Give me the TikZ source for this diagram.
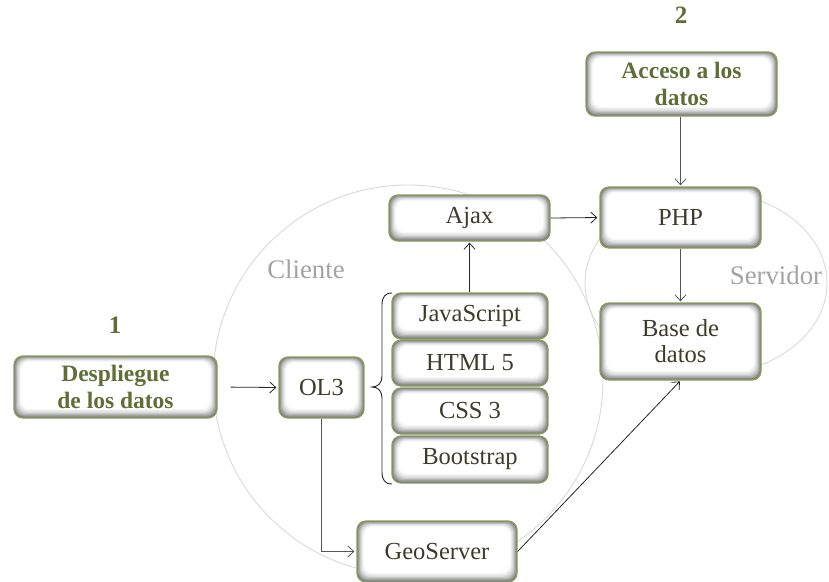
\documentclass[tikz,border=0pt]{standalone}
\usepackage{fontspec}
\setmainfont{Liberation Serif}
\usetikzlibrary{arrows.meta}
\definecolor{bordc}{HTML}{8A9D5B}
\definecolor{headc}{HTML}{5E6F36}
\definecolor{bodyc}{HTML}{3E3B2A}
\definecolor{circc}{HTML}{D9D9D9}
\definecolor{labc}{HTML}{A3A3A3}
\definecolor{arrc}{HTML}{555555}
\tikzset{
  box/.style={draw=bordc, line width=1.3pt, rounded corners=9pt, fill=white,
    align=center, text=bodyc, inner sep=0pt,
    font=\fontsize{24.5}{26}\selectfont,
    path picture={
      \foreach \i/\c in {0/52,1/40,2/30,3/21,4/14,5/8,6/3,7/0} {
        \fill[black!\c!white, rounded corners=9pt]
          ([shift={(\i pt,-0.8*\i pt)}]path picture bounding box.north west)
          rectangle ([shift={(-\i pt,1.3*\i pt)}]path picture bounding box.south east);
      }
    }},
  head/.style={box, text=headc, font=\bfseries\fontsize{23.5}{27}\selectfont},
  num/.style={text=headc, font=\bfseries\fontsize{25}{26}\selectfont, inner sep=0pt},
  glabel/.style={text=labc, font=\fontsize{26.8}{28}\selectfont, inner sep=0pt},
  circ/.style={draw=circc, line width=0.9pt},
  arr/.style={draw=black!85, line width=0.8pt, -{Straight Barb[length=6pt,width=11pt]}},
  garr/.style={arr, draw=arrc},
  brc/.style={draw=black!85, line width=0.9pt},
}
\begin{document}
\begin{tikzpicture}[x=1pt,y=-1pt]
\useasboundingbox (0,0) rectangle (829,581);
% background regions
\draw[circ] (408,380) circle [radius=195pt];
\draw[circ] (706,283) ellipse [x radius=121pt, y radius=92pt];
\node[glabel] (cli) at (306,269) {Cliente};
\node[glabel] (srv) at (776,275) {Servidor};
% nodes
\node[num] (n1) at (115,325) {1};
\node[num] (n2) at (681,15) {2};
\node[head, minimum width=203pt, minimum height=62pt] (desp) at (115.5,387) {Despliegue\\de los datos};
\node[head, minimum width=191pt, minimum height=64pt] (acc) at (681.5,84) {Acceso a los\\datos};
\node[box, minimum width=85pt, minimum height=61pt] (ol3) at (321.5,387.5) {OL3};
\node[box, minimum width=161pt, minimum height=46pt] (ajax) at (469.5,218) {Ajax};
\node[box, minimum width=156pt, minimum height=46pt] (js) at (470,316) {JavaScript};
\node[box, minimum width=156pt, minimum height=46pt] (html) at (470,363) {HTML 5};
\node[box, minimum width=156pt, minimum height=46pt] (css) at (470,411) {CSS 3};
\node[box, minimum width=156pt, minimum height=47pt] (boot) at (470,459.5) {Bootstrap};
\node[box, minimum width=160pt, minimum height=61pt] (geo) at (437,551.5) {GeoServer};
\node[box, minimum width=161pt, minimum height=61pt] (php) at (680.5,217.5) {PHP};
\node[box, minimum width=161pt, minimum height=77pt] (base) at (680.5,341.5) {Base de\\datos};
% brace
\draw[brc] (392,293) .. controls (385,293) and (382,297) .. (382,305) -- (382,376)
  .. controls (382,383) and (378,387) .. (372,387)
  .. controls (378,387) and (382,391) .. (382,398) -- (382,472)
  .. controls (382,480) and (385,484) .. (392,484);
% connectors
\draw[arr, shorten <=13pt, shorten >=2pt] (desp.east) -- (ol3.west);
\draw[garr, shorten >=2pt] (ol3.south) |- (geo.west);
\draw[arr, shorten >=1pt] (js.north -| ajax.south) -- (ajax.south);
\draw[arr, shorten >=2pt] (ajax.east) -- (php.west);
\draw[garr, shorten >=1pt] (acc.south -| php.north) -- (php.north);
\draw[garr, shorten >=1pt] (php.south) -- (base.north);
\draw[arr, shorten >=1pt] (geo.east) -- (base.south);
\end{tikzpicture}
\end{document}
